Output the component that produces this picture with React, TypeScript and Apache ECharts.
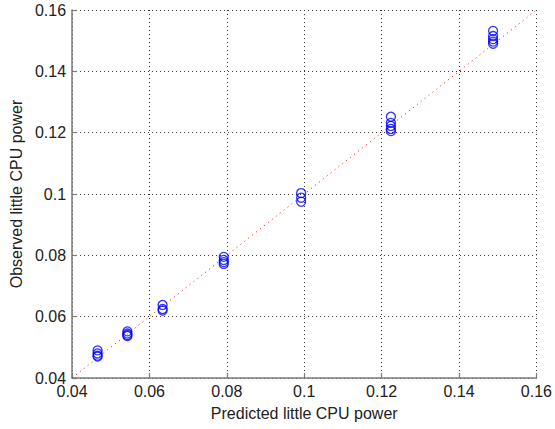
import React, { useEffect, useRef } from "react";
import * as echarts from "echarts";

const xTicks = [0.04, 0.06, 0.08, 0.1, 0.12, 0.14, 0.16];
const predicted = [
  0.0466, 0.0466, 0.0466, 0.0466,
  0.0543, 0.0543, 0.0543, 0.0543,
  0.0634, 0.0634, 0.0634,
  0.0792, 0.0792, 0.0792, 0.0792,
  0.0992, 0.0992, 0.0992,
  0.1224, 0.1224, 0.1224, 0.1224, 0.1224,
  0.1488, 0.1488, 0.1488, 0.1488, 0.1488,
];
const observed = [
  0.049, 0.048, 0.0473, 0.047,
  0.0552, 0.0545, 0.054, 0.0537,
  0.0638, 0.0625, 0.062,
  0.0795, 0.0785, 0.0778, 0.0772,
  0.1003, 0.0988, 0.0975,
  0.1252, 0.1232, 0.1222, 0.1212, 0.1205,
  0.1532, 0.1515, 0.1505, 0.1497, 0.149,
];
const identityLine = [
  [0.04, 0.04],
  [0.16, 0.16],
];

const FONT = "'Liberation Sans', Arial, sans-serif";

export default function App() {
  const ref = useRef<HTMLDivElement>(null);
  useEffect(() => {
    if (!ref.current) return;
    const chart = echarts.init(ref.current, null, { renderer: "svg" });
    const fmt = (v: number) => String(+v.toFixed(2));
    const axisCommon = {
      type: "value" as const,
      min: xTicks[0],
      max: xTicks[xTicks.length - 1],
      interval: 0.02,
      nameLocation: "middle" as const,
      nameTextStyle: { fontFamily: FONT, fontSize: 16, color: "#222" },
      axisLine: { show: true, onZero: false, lineStyle: { color: "#7a7a7a", width: 1.5 } },
      axisTick: { show: true, inside: true, length: 5, lineStyle: { color: "#7a7a7a", width: 1.2 } },
      axisLabel: { fontFamily: FONT, fontSize: 16, color: "#222", formatter: fmt },
      splitLine: { show: true, lineStyle: { color: "#333", type: [1, 3], width: 1 } },
    };
    chart.setOption({
      animation: false,
      backgroundColor: "#fff",
      grid: { left: 71, right: 18, top: 10, bottom: 51, containLabel: false },
      xAxis: {
        ...axisCommon,
        name: "Predicted little CPU power",
        nameGap: 27,
        axisLabel: { ...axisCommon.axisLabel, margin: 5 },
      },
      yAxis: {
        ...axisCommon,
        name: "Observed little CPU power",
        nameGap: 46,
        axisLabel: { ...axisCommon.axisLabel, margin: 6 },
      },
      series: [
        {
          type: "line",
          data: identityLine,
          symbol: "none",
          lineStyle: { color: "#ff0000", width: 1, type: [1, 4] },
          z: 1,
        },
        {
          type: "scatter",
          data: predicted.map((p, i) => [p, observed[i]]),
          symbol: "circle",
          symbolSize: 9,
          itemStyle: { color: "rgba(0,0,0,0)", borderColor: "#0000ff", borderWidth: 1.3 },
          z: 2,
        },
      ],
    });
    return () => chart.dispose();
  }, []);
  return (
    <div
      ref={ref}
      style={{ position: "fixed", left: 0, top: 0, width: 555, height: 429 }}
    />
  );
}
